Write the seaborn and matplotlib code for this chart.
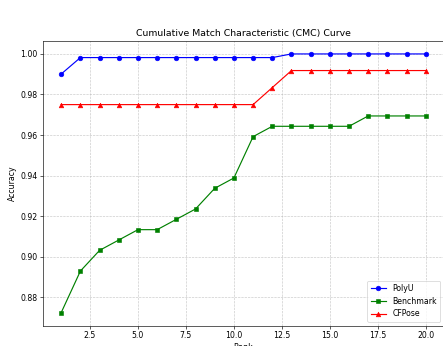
import matplotlib
matplotlib.use("Agg")
import matplotlib.pyplot as plt
import seaborn as sns
import pandas as pd

ranks = list(range(1, 21))
polyu = [0.9901] + [0.9982] * 11 + [1.0] * 8
benchmark = [0.8724, 0.8929, 0.9031, 0.9082, 0.9133, 0.9133, 0.9184, 0.9235,
             0.9337, 0.9388, 0.9592, 0.9643, 0.9643, 0.9643, 0.9643, 0.9643,
             0.9694, 0.9694, 0.9694, 0.9694]
cfpose = [0.975] * 11 + [0.9834] + [0.9918] * 8

series_names = ["PolyU", "Benchmark", "CFPose"]
series_values = [polyu, benchmark, cfpose]
colors = ["blue", "green", "red"]
markers = ["o", "s", "^"]

DPI = 56
fig = plt.figure(figsize=(443 / DPI, 346 / DPI), dpi=DPI)
ax = fig.add_axes([43 / 443, (346 - 325.5) / 346, 401 / 443, 284.5 / 346])

for name, vals, c, m in zip(series_names, series_values, colors, markers):
    df = pd.DataFrame({"Rank": ranks, "Accuracy": vals})
    sns.lineplot(data=df, x="Rank", y="Accuracy", ax=ax, color=c, marker=m,
                 markeredgecolor=c, label=name, linewidth=1.5, markersize=6)

ax.set_title("Cumulative Match Characteristic (CMC) Curve")
ax.set_xlabel("Rank")
ax.set_ylabel("Accuracy")
ax.grid(True, linestyle="--", alpha=0.7)
ax.legend(loc="lower right")

fig.savefig("out.png", dpi=DPI)
